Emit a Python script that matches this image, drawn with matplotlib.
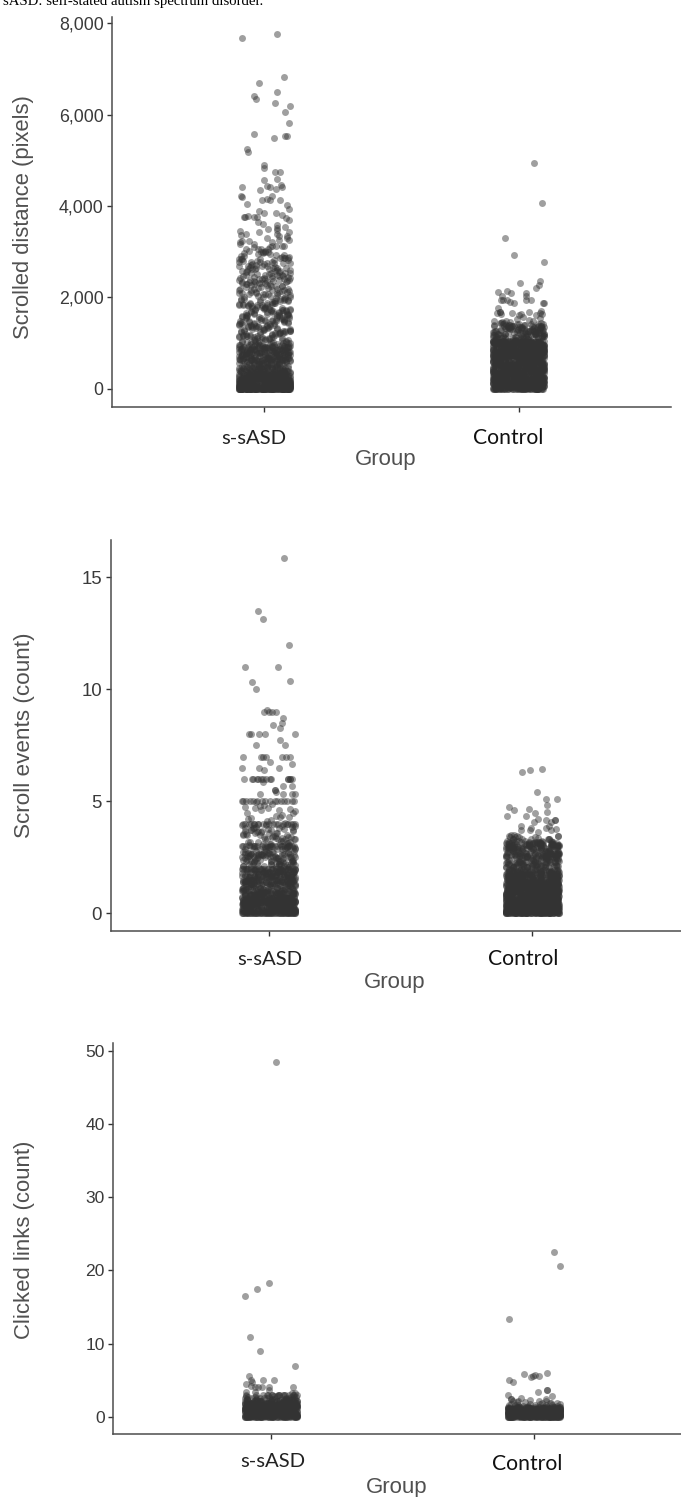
import matplotlib.pyplot as plt
import numpy as np

W, H = 681, 1497
POINT = "#333333"

groups = ["s-sASD", "Control"]

# jitter in hundredths of a group slot, repeated along the dense part of each cloud
dense_jitter = [-7.2, 3.1, 8.8, -1.4, -9.6, 5.9, 0.4, -4.3, 9.7, -6.1, 2.2, 6.8, -8.7, -2.5, 4.6, -10, 1.3, 7.7, -5.2, -0.6,
                9.2, -3.4, -7.9, 3.8, 5.1, -9.1, 0.9, 10, -1.9, -6.6, 8.1, 2.9, -4.8, 6.3, -8.3, -0.1, 4.1, -2.9, 9.9, -5.7,
                1.7, 7.2, -9.9, -3.9, 5.6, -1.1, 8.5, -7.4, 0.2, 3.4, -6.9, 6.9, -4.1, -8.9, 2.6, 9.4, -2.2, -5.4, 4.9, 7.5, 1.0]

# (jitter, pixels), sparse upper points
ssasd_scroll_top = [(-9, 7683), (5, 7765), (7.5, 6815), (-2.3, 6690), (5, 6495), (-4, 6415), (-3.5, 6350), (4, 6247),
                    (10, 6188), (8, 6057), (9.6, 5824), (-4, 5575), (3.6, 5488), (8, 5532), (9, 5532), (-7, 5255),
                    (-6.6, 5173), (0, 4897), (0, 4832), (4, 4737), (6, 4744), (0, 4578), (5, 4592), (1, 4437), (2, 4409),
                    (6.5, 4459), (7, 4409), (-9, 4415), (-1.7, 4358), (4.5, 4371), (-9.4, 4227), (-9, 4197), (3, 4227),
                    (-7, 4044), (-1, 4124), (1, 4146), (2, 4124), (6, 4124), (9, 4022), (9.5, 3934), (-2, 3890), (0, 3846),
                    (4.4, 3840), (-8, 3759), (-7.5, 3759), (-6.5, 3790), (-4, 3759), (-3, 3759), (7, 3796), (8.5, 3746),
                    (9.6, 3687), (-2.5, 3650), (-0.5, 3600), (1.5, 3505), (5, 3578), (5, 3519), (8, 3541), (-9.6, 3446),
                    (-9.4, 3374), (-2, 3431), (5, 3468), (9.6, 3431)]
ssasd_scroll_mid = [3380, 3120, 3290, 3050, 3210, 3340, 2990, 3160, 3260, 3010, 3090, 2890, 3230, 2950, 3130, 2840, 3060, 2920, 2780, 3000,
                    2870, 2700, 2960, 2810, 2640, 2900, 2750, 2590, 2830, 2680, 2530, 2770, 2620, 2860, 2470, 2720, 2570, 2800, 2430, 2660,
                    2510, 2740, 2380, 2610, 2460, 2690, 2340, 2550, 2410, 2630, 2290, 2490, 2360, 2580, 2240, 2440, 2310, 2520, 2190, 2390,
                    2270, 2480, 2150, 2350, 2230, 2420, 2110, 2320, 2180, 2370, 2070, 2280, 2140, 2330, 2030, 2250, 2100, 2200, 1990, 2160,
                    2060, 1950, 2120, 2010, 1910, 2090, 1970, 1870, 2040, 1930, 1840, 2000, 1890, 1800, 1960, 1850, 1770, 1920, 1820, 1740,
                    1880, 1780, 1710, 1860, 1750, 1680, 1830, 1720, 1650, 1790, 1690, 1620, 1760, 1660, 1590, 1730, 1630, 1560, 1700, 1600,
                    1530, 1670, 1570, 1500, 1640, 1540, 1470, 1610, 1510, 1440, 1580, 1480, 1410, 1550, 1450, 1380, 1520, 1420, 1350, 1490,
                    1390, 1320, 1460, 1360, 1290, 1430, 1330, 1260, 1400, 1300, 1230, 1370, 1270, 1200, 1340, 1240, 1170, 1310, 1210, 1140,
                    1280, 1180, 1110, 1250, 1150, 1080, 1220, 1120, 1050, 1190, 1090, 1020, 1160, 1060, 1130, 1030, 1100, 1070, 1040, 1010]
ssasd_scroll_low = [990, 720, 860, 640, 930, 780, 680, 900, 820, 610, 960, 740, 870, 660, 800, 950, 700, 840, 630, 910, 760, 650, 880, 790,
                    620, 940, 730, 850, 670, 810, 975, 710, 890, 600, 770, 920, 690, 830, 645, 865, 750, 615, 905, 785, 635, 845, 725]
ssasd_scroll_base = [580, 20, 310, 150, 470, 60, 240, 390, 10, 180, 530, 90, 280, 0, 350, 130, 440, 40, 210, 0, 560, 110, 320, 70, 250, 15, 410, 170, 30, 500,
                     120, 290, 0, 200, 370, 50, 140, 455, 80, 230, 5, 340, 100, 190, 25, 270, 0, 160, 420, 65, 220, 35, 300, 125, 0, 85, 260, 45, 0]

control_scroll_top = [(6.2, 4949), (9.3, 4073), (-5.2, 3300), (-1.7, 2921), (10, 2761), (8.4, 2359), (7.9, 2271), (6.8, 2192),
                      (0.5, 2301), (-8.1, 2111), (-4.7, 2126), (-2.8, 2096), (-6.4, 2030), (2.9, 2089), (3.1, 2024), (-7, 1943),
                      (-6, 1943), (-4.5, 1936), (-3.4, 1899), (-1.7, 1870), (3.1, 1936), (5, 1943), (9.7, 1870), (10, 1870),
                      (-8, 1754), (-8.5, 1659), (-7.3, 1673), (-7.3, 1673), (-6.8, 1630), (-2.7, 1645), (4, 1667), (8.7, 1702),
                      (8.5, 1659), (9.3, 1630), (0, 1620), (1, 1640), (1.7, 1570), (-0.5, 1530), (-9.8, 1483), (-5, 1480),
                      (-6.5, 1450), (-3.5, 1460), (5.5, 1480), (8.5, 1540), (7, 1600), (4, 1500), (9, 1430), (-9.8, 1370)]
control_scroll_mid = [1440, 1210, 1350, 1120, 1390, 1270, 1060, 1330, 1180, 1410, 1090, 1290, 1150, 1370, 1030, 1240, 1320, 1100, 1200, 1420, 1130, 1300, 1010, 1260, 1380,
                      1070, 1170, 1340, 1220, 1040, 1280, 1140, 1400, 1190, 1080, 1310, 1250, 1020, 1160, 1360, 1110, 1230, 1050, 1330, 1205, 1125, 1275, 1015, 1345, 1185]
control_scroll_base = [1040, 230, 760, 90, 520, 930, 340, 640, 20, 850, 450, 150, 720, 990, 280, 580, 60, 810, 390, 1010, 180, 680, 490, 950, 110, 300, 770, 600, 40, 880,
                       420, 210, 700, 1030, 130, 540, 840, 360, 0, 620, 970, 260, 470, 790, 80, 910, 330, 560, 170, 740, 1000, 430, 10, 660, 240, 870, 510, 120, 380, 820,
                       50, 960, 290, 590, 200, 730, 400]

ssasd_events_top = [(5.9, 15.85), (-4.2, 13.48), (-2.3, 13.15), (7.6, 11.99), (-8.9, 11), (3.5, 11), (-6.4, 10.33), (7.9, 10.38),
                    (-4.9, 10), (-1.7, 9), (-0.7, 9.1), (0, 9), (1.2, 9), (2.7, 9), (5.4, 8.7), (5, 8.48), (1.6, 8.42), (4.1, 8.27),
                    (-7.3, 8), (-6.6, 8), (-3.7, 8), (-1.3, 8), (9.8, 8), (4.4, 7.74), (6.2, 7.5), (-4.9, 7.5), (-9.7, 7), (-3, 7),
                    (-2, 7), (-1, 7), (5, 7), (6.5, 7), (8.1, 7), (0.3, 6.74), (8.9, 6.66), (-10, 6.5), (-3.7, 6.5), (-1.7, 6.4),
                    (4, 6.5), (-9.5, 6), (-6.4, 6), (-5.8, 6), (-4.5, 6), (-3.9, 6), (-3, 6), (-2, 6), (-1, 6), (0.3, 6), (0.8, 6),
                    (7.5, 6), (8.1, 6), (8.8, 6), (7.5, 6), (8.1, 6), (-2, 5.85), (5.4, 5.67), (8.9, 5.67), (2.5, 5.5), (2.2, 5.5),
                    (2.8, 5.4), (-3.4, 5.33), (5.5, 5.33), (8.7, 5.33), (9.8, 5.33)]
ssasd_events_4to5 = [4.9, 4.3, 4.7, 4.1, 4.5, 4.8, 4.2, 4.6, 4.4, 4.75, 4.15, 4.55, 4.85, 4.25, 4.65, 4.35, 4.95, 4.05, 4.5, 4.7, 4.3, 4.6]
ssasd_events_3to4 = [3.9, 3.4, 3.7, 3.2, 3.6, 3.85, 3.3, 3.5, 3.75, 3.1, 3.65, 3.33, 3.8, 3.45, 3.15, 3.55, 3.67, 3.25, 3.95, 3.4, 3.05, 3.6, 3.33, 3.7, 3.5, 3.2, 3.8, 3.35, 3.67, 3.1]
ssasd_events_2to3 = [2.9, 2.4, 2.7, 2.2, 2.6, 2.85, 2.33, 2.5, 2.75, 2.1, 2.67, 2.45, 2.8, 2.25, 2.55, 2.95, 2.35, 2.65, 2.15, 2.5, 2.75, 2.05, 2.4, 2.6, 2.3, 2.85, 2.5, 2.2, 2.7, 2.45, 2.33, 2.9, 2.1, 2.67, 2.5, 2.25, 2.6]
ssasd_events_1to2 = [1.9, 1.4, 1.7, 1.2, 1.6, 1.85, 1.33, 1.5, 1.75, 1.1, 1.67, 1.45, 1.8, 1.25, 1.55, 1.95, 1.35, 1.65, 1.15, 1.5, 1.75, 1.05, 1.4, 1.6, 1.3, 1.85, 1.5, 1.2, 1.7, 1.45, 1.33, 1.9, 1.1, 1.67, 1.5, 1.25, 1.6, 1.8, 1.4, 1.15, 1.55]
ssasd_events_0to1 = [0.9, 0.4, 0.7, 0.2, 0.6, 0.85, 0.33, 0.5, 0.75, 0.1, 0.67, 0.45, 0.8, 0.25, 0.55, 0.95, 0.35, 0.65, 0.15, 0.5, 0.75, 0.05, 0.4, 0.6, 0.3, 0.85, 0.5, 0.2, 0.7, 0.45, 0.33, 0.9, 0.1, 0.67, 0.5, 0.25, 0.6, 0.8, 0.4, 0.15, 0.55, 0.3, 0.05]

control_events_top = [(-4, 6.32), (-0.9, 6.41), (3.6, 6.43), (1.6, 5.43), (5, 5.1), (9.5, 5.09), (5.7, 4.82), (-8.9, 4.76), (-7, 4.6),
                      (-1.1, 4.64), (5.5, 4.54), (-9.7, 4.33), (-2.5, 4.36), (1.1, 4.46), (2.3, 4.22), (0.6, 4.09), (5.1, 4.17),
                      (6.9, 4.09), (8.4, 4.17), (8.4, 4.17), (-4.4, 3.9), (-0.6, 3.8), (5.1, 3.8), (6.2, 3.9), (8.8, 3.75),
                      (-4.4, 3.7), (-1, 3.7), (2, 3.65), (6.9, 3.7), (9.6, 3.45), (9.6, 3.45), (-9, 3.45), (-8, 3.5), (-7, 3.5),
                      (-6, 3.45), (-5, 3.4), (-8.5, 3.4), (-6.5, 3.4), (0.8, 3.4), (2.3, 3.35), (6.4, 3.3)]
control_events_mid = [3.3, 2.4, 2.9, 2.1, 3.1, 2.6, 2.2, 3.2, 2.7, 2.05, 2.95, 2.5, 3.0, 2.3, 2.8, 3.15, 2.15, 2.65, 3.25, 2.45, 2.85, 2.0, 3.05, 2.55,
                      2.25, 2.75, 3.1, 2.35, 2.9, 2.6, 2.1, 3.2, 2.7, 2.4, 2.95, 2.2, 3.0, 2.5, 2.8, 2.3, 3.15, 2.65, 2.05, 2.85, 2.45, 3.05, 2.55]
control_events_base = [1.95, 0.4, 1.3, 0.15, 0.9, 1.7, 0.6, 1.1, 0.05, 1.5, 0.8, 0.25, 1.25, 1.85, 0.5, 1.0, 0.1, 1.45, 0.7, 1.9, 0.3, 1.2, 0.85, 1.65, 0.2, 0.55, 1.35, 1.05, 0.08, 1.55,
                       0.75, 0.35, 1.15, 1.8, 0.45, 0.95, 1.4, 0.65, 0.0, 1.1, 1.75, 0.28, 0.88, 1.6, 0.12, 1.3, 0.58, 1.0, 0.38, 1.5, 0.78, 0.18, 1.22, 0.48, 1.68, 0.68, 0.02, 1.05, 0.32]

ssasd_links_top = [(2, 48.45), (-9.8, 16.5), (-5.2, 17.5), (-0.8, 18.3), (-8.1, 10.93), (-4.1, 9.02), (9.2, 6.97), (-8.2, 5.51),
                   (-7.6, 5), (-7.2, 4.78), (-3, 5), (1.1, 5), (-9.5, 4.5), (-7.6, 4.2), (-6, 4.05), (-5, 4.05), (-3.4, 4.05),
                   (-0.6, 4.05), (8.4, 4.05), (-0.8, 3.6), (-9.5, 3.4), (-6, 3.4), (8, 3.3), (9.3, 3.2), (-9.3, 3), (-5.7, 3),
                   (-3, 3), (-1.5, 3), (0.6, 3), (2.8, 3), (4.8, 3), (6.8, 3), (8.8, 3), (9.8, 3), (-1, 3), (3, 3), (5.5, 3), (8.3, 2.9)]
ssasd_links_mid = [2.6, 2.9, 2.7, 2.5, 2.8, 2.6, 2.95, 2.55, 2.75, 2.65, 2.85, 2.5, 2.7, 2.6, 2.9, 2.55, 2.8, 2.7, 2.5, 2.65]
ssasd_links_base = [2.4, 0.5, 1.6, 0.2, 1.1, 2.0, 0.7, 1.4, 0.05, 1.8, 0.9, 0.3, 1.3, 2.2, 0.6, 1.0, 0.1, 1.7, 0.8, 2.3, 0.4, 1.2, 1.9, 0.15,
                    0.65, 1.5, 1.05, 0.0, 1.75, 0.85, 0.35, 1.25, 2.1, 0.55, 0.95, 1.45, 0.75, 0.0, 1.15, 1.85, 0.25, 1.35, 0.45, 1.6, 0.12, 1.0, 0.7]

control_links_top = [(7.6, 22.5), (9.9, 20.6), (-9.4, 13.4), (-3.7, 5.87), (4.8, 5.97), (-0.3, 5.55), (0.3, 5.7), (-1, 5.4), (2, 5.55),
                     (-9.4, 4.96), (-8.1, 4.74), (4.9, 3.69), (4.9, 3.69), (1.5, 3.37), (6.8, 2.87), (-10, 3), (4.6, 2.37), (-8.7, 2.46),
                     (-8.7, 2.46), (-8, 2.2), (-4.9, 2.5), (-1.5, 2.28), (1.9, 2.14), (-6.3, 2.2), (8.6, 1.82), (4.6, 2.1), (-3.3, 2),
                     (-6.5, 1.95), (6.5, 1.9)]
control_links_mid = [1.6, 1.9, 1.5, 1.75, 1.55, 1.85, 1.65, 1.5, 1.7, 1.6, 1.8, 1.55, 1.7, 1.5, 1.65]
control_links_base = [1.3, 0.3, 0.9, 0.1, 0.6, 1.1, 0.4, 0.8, 0.0, 1.0, 0.5, 0.2, 0.75, 1.2, 0.35, 0.65, 0.05, 0.95, 0.45, 1.25, 0.15,
                      0.7, 1.05, 0.25, 0.55, 0.85, 0.0, 1.15, 0.38, 0.62, 0.12, 0.92, 0.48, 1.28, 0.22, 0.78, 0.58, 0.02, 1.08, 0.32, 0.68]


def panel(fig, left, right, top, bottom, ylim):
    "Axes placed by pixel box of the reference."
    ax = fig.add_axes([left / W, 1 - bottom / H, (right - left) / W, (bottom - top) / H])
    ax.set_xlim(0.4, 2.6)
    ax.set_ylim(*ylim)
    for side in ["top", "right"]:
        ax.spines[side].set_visible(False)
    for side in ["left", "bottom"]:
        ax.spines[side].set_linewidth(1.1)
        ax.spines[side].set_color("#4d4d4d")
    ax.set_xticks([1, 2])
    ax.set_xticklabels([])
    ax.tick_params(axis="both", length=3.6, width=1.0, color="#333333")
    return ax


def cloud(ax, pos, top, dense):
    top = np.array(top)
    jitter = np.resize(dense_jitter, len(dense))
    x = pos + np.concatenate([top[:, 0], jitter]) / 100
    y = np.concatenate([top[:, 1], dense])
    ax.scatter(x, y, s=25, color=POINT, alpha=0.47, linewidths=0, clip_on=False)


def label(fig, x, y, text, **kw):
    fig.text(x / W, 1 - y / H, text, ha="center", va="center", **kw)


fig = plt.figure(figsize=(W / 100, H / 100), dpi=100)
sans = "Liberation Sans"
tick_col = "#3a3a3a"
title_col = "#505050"

# top panel
ax1 = panel(fig, 112, 671, 16.5, 406.5, (-394, 8150))
cloud(ax1, 1, ssasd_scroll_top, ssasd_scroll_mid * 2 + ssasd_scroll_low * 4 + ssasd_scroll_base * 9 + [0] * 40)
cloud(ax1, 2, control_scroll_top, control_scroll_mid * 3 + control_scroll_base * 14 + [0] * 30)
ax1.set_yticks([0, 2000, 4000, 6000, 8000])
ax1.set_yticklabels(["0", "2,000", "4,000", "6,000", "8,000"], fontfamily=sans, fontsize=12.8, color=tick_col)

# middle panel
ax2 = panel(fig, 110.5, 690.6, 540, 930.7, (-0.777, 16.67))
cloud(ax2, 1, ssasd_events_top,
      [5] * 16 + ssasd_events_4to5 + [4] * 20 + ssasd_events_3to4 * 2 + [3] * 24 + ssasd_events_2to3 * 3 + [2] * 34
      + ssasd_events_1to2 * 5 + [1] * 20 + ssasd_events_0to1 * 8 + [0] * 50)
cloud(ax2, 2, control_events_top, control_events_mid * 6 + control_events_base * 14 + [0] * 30)
ax2.set_yticks([0, 5, 10, 15])
ax2.set_yticklabels(["0", "5", "10", "15"], fontfamily=sans, fontsize=13.4, color=tick_col)

# bottom panel
ax3 = panel(fig, 113, 692, 1043, 1434, (-2.36, 51.05))
cloud(ax3, 1, ssasd_links_top, ssasd_links_mid + ssasd_links_base * 10 + [0] * 25)
cloud(ax3, 2, control_links_top, control_links_mid + control_links_base * 10 + [0] * 25)
ax3.set_yticks([0, 10, 20, 30, 40, 50])
ax3.set_yticklabels(["0", "10", "20", "30", "40", "50"], fontfamily=sans, fontsize=12.6, color=tick_col)

for ax in [ax1, ax2, ax3]:
    ax.tick_params(axis="y", pad=2.5)

# pasted text around the panels
fig.text(3 / W, 1 - 5 / H, "sASD: self-stated autism spectrum disorder.", fontfamily="Liberation Serif",
         fontsize=10.6, color="black", ha="left", va="baseline")

for y, text, cx, size in [(217, "Scrolled distance (pixels)", 24, 15.8), (735, "Scroll events (count)", 25, 16.2), (1240, "Clicked links (count)", 25, 15.9)]:
    label(fig, cx, y, text, rotation=90, fontfamily=sans, fontsize=size, color=title_col)

for x, y in [(386, 459), (395, 983), (397, 1487)]:
    label(fig, x, y, "Group", fontfamily=sans, fontsize=16, color=title_col)

for (x0, x1, y0, y1) in [(254, 507.7, 438, 437.7), (270, 523, 959, 959), (272.7, 526.7, 1461.7, 1464)]:
    label(fig, x0, y0, groups[0], fontfamily="Lato", fontsize=14.6, color="#222222")
    label(fig, x1, y1, groups[1], fontfamily="Lato", fontsize=15.2, color="#111111")

fig.savefig("out.png", dpi=100, facecolor="white")
